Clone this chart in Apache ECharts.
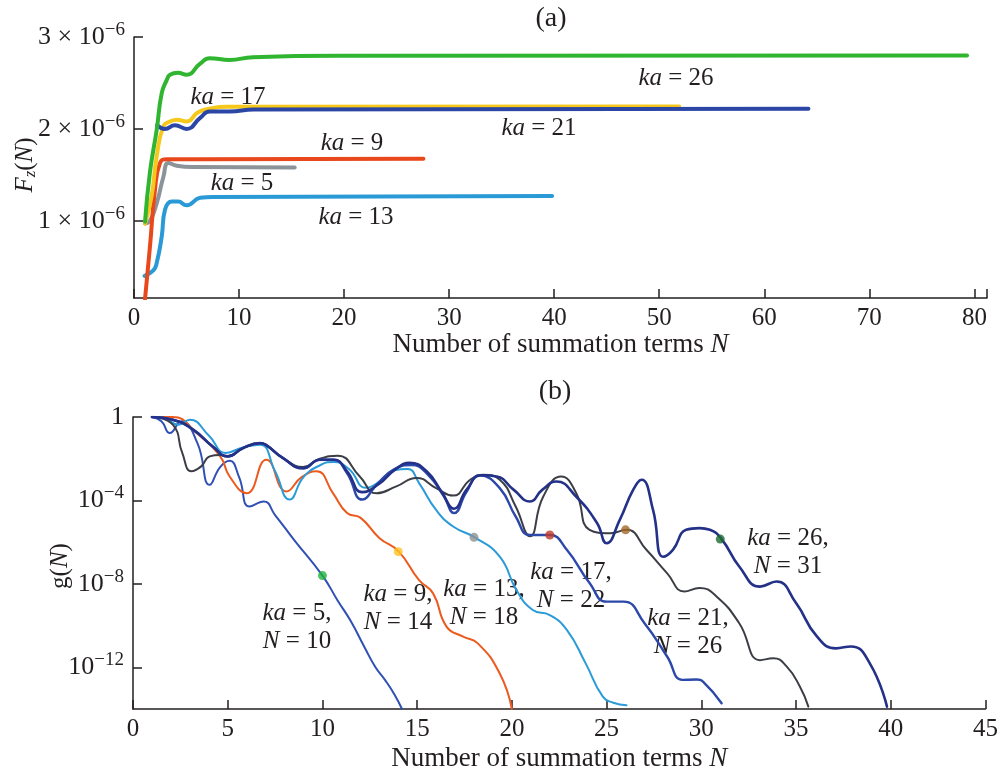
<!DOCTYPE html>
<html>
<head>
<meta charset="utf-8">
<title>Convergence of F_z(N) and g(N)</title>
<script src="https://cdn.jsdelivr.net/npm/echarts@6/dist/echarts.min.js"></script>
<style>
  html, body { margin: 0; padding: 0; background: #fff; }
  #chart { width: 1001px; height: 774px; }
</style>
</head>
<body>
<div id="chart"></div>
<script>
/* Two stacked panels: (a) axial force vs number of terms, (b) log-scale residual g(N). */

// ── (a) F_z(N) curves, [N, value] ──
var fzKa5 = [[1.05, 0.97e-6], [1.52, 1.0e-6], [2.16, 1.19e-6], [2.8, 1.48e-6], [3.27, 1.63e-6], [4.07, 1.6e-6], [5.6, 1.585e-6], [15.3, 1.58e-6]];
var fzKa9 = [[1.05, 0.15e-6], [1.52, 0.72e-6], [2.0, 1.34e-6], [2.48, 1.63e-6], [3.11, 1.67e-6], [6, 1.67e-6], [27.55, 1.675e-6]];
var fzKa13 = [[1.0, 0.40e-6], [1.84, 0.46e-6], [2.16, 0.54e-6], [2.64, 0.83e-6], [2.95, 1.12e-6], [3.6, 1.21e-6], [4.2, 1.21e-6], [5.0, 1.17e-6], [6.3, 1.25e-6], [7.55, 1.26e-6], [39.8, 1.27e-6]];
var fzKa17 = [[1.05, 0.97e-6], [1.68, 1.27e-6], [2.16, 1.70e-6], [2.8, 2.03e-6], [3.43, 2.08e-6], [4.07, 2.10e-6], [5.0, 2.08e-6], [6.1, 2.18e-6], [7.2, 2.22e-6], [8.8, 2.24e-6], [51.9, 2.245e-6]];
var fzKa21 = [[2.2, 2.04e-6], [2.95, 2.0e-6], [3.9, 2.04e-6], [5.0, 2.0e-6], [6.3, 2.12e-6], [7.2, 2.19e-6], [9.1, 2.19e-6], [11.4, 2.21e-6], [64.2, 2.22e-6]];
var fzKa26 = [[1.05, 0.99e-6], [1.52, 1.53e-6], [2.16, 1.99e-6], [2.64, 2.39e-6], [3.11, 2.53e-6], [3.43, 2.59e-6], [4.2, 2.61e-6], [5.0, 2.59e-6], [6.3, 2.71e-6], [7.2, 2.77e-6], [9.1, 2.75e-6], [11.3, 2.78e-6], [20, 2.795e-6], [79.3, 2.80e-6]];
var fzTicks = [1e-6, 2e-6, 3e-6];

// ── (b) g(N) curves ──
var gKa5 = [[1, 1], [1.5, 6.3e-1], [1.94, 1.7e-1], [2.55, 6.2e-1], [3.4, 5.6e-2], [4.05, 5.6e-4], [4.6, 4.0e-3], [5.1, 7.9e-3], [5.6, 1.3e-3], [6.15, 5.1e-5], [6.9, 8.9e-5], [7.5, 2.0e-5], [8.5, 1.3e-6], [10, 2.5e-8], [10.8, 1.6e-9], [11.5, 1.6e-10], [12.2, 1e-11], [12.8, 1e-12], [13.3, 2.5e-13], [13.8, 5e-14], [14.2, 1e-14]];
var gKa9 = [[1, 1], [2.1, 1.0], [3.35, 1.7e-1], [4.6, 1.3e-2], [5.1, 1.4e-3], [6.0, 2.2e-4], [7.04, 8.9e-3], [8.1, 2.7e-4], [8.9, 1.3e-3], [9.68, 2.5e-3], [10.56, 2.2e-4], [11.3, 2.5e-5], [12.0, 1.5e-5], [13.0, 1.6e-6], [14.03, 3.5e-7], [15.1, 1.5e-8], [15.84, 3.5e-9], [16.55, 8.9e-11], [17.4, 3e-11], [18.2, 1.4e-11], [19.36, 5e-13], [20.0, 1e-14]];
var gKa13 = [[1, 1], [1.6, 8.9e-1], [2.4, 4.3e-1], [3.0, 7.4e-1], [4.0, 1.3e-1], [4.9, 1.9e-2], [5.8, 3.5e-2], [6.7, 4.7e-2], [7.5, 2.5e-3], [8.27, 1.1e-4], [9.0, 1.3e-3], [9.9, 5e-3], [10.6, 7e-3], [11.4, 3.2e-3], [12.3, 4e-4], [13.0, 7.9e-4], [13.8, 2.8e-3], [14.5, 3.2e-3], [15.1, 6.8e-4], [16.0, 3.5e-5], [16.9, 5.6e-6], [18.04, 1.7e-6], [19.36, 2e-7], [20.24, 5.1e-9], [21.1, 5.6e-10], [22.0, 3.2e-10], [22.9, 6.2e-11], [23.9, 1.5e-12], [24.8, 3.9e-14], [25.35, 2e-14], [26.05, 1.5e-14]];
var gKa17 = [[1, 1], [2.1, 7.4e-1], [3.17, 2.5e-1], [4.2, 3.9e-2], [5.0, 1.3e-2], [5.8, 3.2e-2], [6.7, 5.6e-2], [7.0, 4.7e-2], [7.9, 1.1e-2], [8.98, 3.5e-3], [9.86, 8.9e-3], [10.6, 8.9e-3], [11.3, 2e-3], [12.1, 1.1e-4], [12.9, 6.3e-4], [13.8, 3.2e-3], [14.7, 5e-3], [15.6, 1.6e-3], [16.4, 1.6e-4], [16.95, 2.5e-5], [17.6, 2.5e-4], [18.3, 1.6e-3], [19.36, 3.9e-4], [20.2, 1.7e-5], [20.95, 2.2e-6], [22.0, 2.2e-6], [22.9, 4.3e-7], [24.1, 1.1e-8], [25.0, 1.4e-9], [25.9, 1.4e-9], [27.0, 1.3e-10], [28.2, 3.2e-12], [29.0, 2.5e-13], [29.75, 2.6e-13], [30.1, 2e-13], [31.07, 1.9e-14]];
var gKa21 = [[1, 1], [2.1, 4.3e-1], [2.6, 1.9e-2], [3.08, 2.5e-3], [3.6, 4.3e-3], [4.05, 1.3e-2], [4.6, 1.5e-2], [5.0, 1.3e-2], [5.8, 3.2e-2], [6.7, 5.6e-2], [7.0, 4.7e-2], [7.9, 1.1e-2], [8.98, 4e-3], [9.86, 1e-2], [10.8, 1.4e-2], [11.97, 1.4e-3], [12.85, 2.2e-4], [13.9, 4.7e-4], [14.96, 1.2e-3], [16.0, 3.9e-4], [16.9, 1.7e-4], [17.8, 9.8e-4], [18.5, 1.7e-3], [19.36, 9.8e-4], [20.2, 5.1e-5], [20.95, 1.9e-6], [21.65, 1.5e-4], [22.6, 1.4e-3], [23.4, 2.2e-4], [24.1, 3.9e-6], [25.2, 2.7e-6], [26.05, 3.9e-6], [27.1, 4.3e-7], [28.2, 3.2e-8], [29.1, 4.3e-9], [29.9, 6.3e-9], [30.8, 2.5e-9], [32.0, 1.3e-10], [33.1, 2.2e-12], [33.8, 2.7e-12], [34.5, 1.1e-12], [35.2, 1.2e-13], [35.65, 1.3e-14]];
var gKa26 = [[1, 1], [2.1, 7.4e-1], [3.17, 2.5e-1], [4.2, 3.9e-2], [5.0, 1.3e-2], [5.8, 3.2e-2], [6.7, 5.6e-2], [7.0, 4.7e-2], [7.9, 1.1e-2], [8.98, 3.5e-3], [9.86, 8.9e-3], [10.6, 8.9e-3], [11.3, 2.5e-3], [12.1, 2.5e-4], [13.0, 6.3e-4], [13.8, 2.8e-3], [14.6, 6.3e-3], [15.5, 2.5e-3], [16.3, 2.5e-4], [16.95, 4e-5], [17.6, 3.2e-4], [18.4, 1.6e-3], [19.2, 1.4e-3], [20.1, 3.2e-4], [20.95, 8.9e-5], [21.6, 3.2e-4], [22.35, 8.1e-4], [23.4, 1.5e-4], [24.5, 8.1e-6], [25.0, 8.9e-7], [25.7, 1.2e-5], [26.4, 3.2e-4], [26.85, 9.8e-4], [27.45, 3.5e-5], [27.98, 2e-7], [28.5, 4.3e-7], [29.2, 3.9e-6], [29.9, 4.7e-6], [30.45, 3.9e-6], [31.07, 1.4e-6], [32.0, 6.8e-8], [33.1, 7.4e-9], [33.97, 1.3e-8], [35.0, 1.2e-9], [36.1, 3e-11], [37.1, 8.1e-12], [37.9, 1e-11], [38.9, 1.5e-12], [39.8, 1.3e-14]];
var gTicks = [1e-12, 1e-8, 1e-4, 1];

// converged N for each ka (dots on panel b)
var markN = [10, 14, 18, 22, 26, 31];
var markG = [2.5e-8, 3.5e-7, 1.7e-6, 2.2e-6, 3.9e-6, 1.4e-6];

(function () {
  'use strict';

  var SERIF = '"Liberation Serif", "DejaVu Serif", serif';
  var INK = '#231f20';
  var FS = 25;

  function axisLine() { return { show: true, onZero: false, lineStyle: { color: INK, width: 1.5 } }; }
  function axisTick(custom) {
    var t = { show: true, inside: true, length: 9, lineStyle: { color: INK, width: 1.5 } };
    if (custom) { t.customValues = custom; }
    return t;
  }

  var baseRich = {
    b: { fontFamily: SERIF, fontSize: 26, color: INK, lineHeight: 30 },
    s: { fontFamily: SERIF, fontSize: 19, color: INK, padding: [0, 0, 14, 0] },
    i: { fontFamily: SERIF, fontSize: FS, color: INK, fontStyle: 'italic' },
    r: { fontFamily: SERIF, fontSize: FS, color: INK },
    z: { fontFamily: SERIF, fontSize: 17, color: INK, fontStyle: 'italic', padding: [12, 0, 0, 0] }
  };
  var nameRich = {
    i: { fontFamily: SERIF, fontSize: 27, color: INK, fontStyle: 'italic' },
    r: { fontFamily: SERIF, fontSize: 27, color: INK }
  };

  function line(data, color, width, xi) {
    return {
      type: 'line',
      xAxisIndex: xi,
      yAxisIndex: xi,
      data: data,
      smooth: 0.5,
      showSymbol: false,
      silent: true,
      lineStyle: { color: color, width: width, cap: 'round', join: 'round' }
    };
  }

  function textEl(x, y, text, rotation, size) {
    return {
      type: 'text',
      x: x,
      y: y,
      rotation: rotation || 0,
      style: {
        text: text,
        align: 'center',
        verticalAlign: 'middle',
        fontFamily: SERIF,
        fontSize: size || FS,
        fill: INK,
        lineHeight: 28,
        rich: baseRich
      }
    };
  }

  var chart = echarts.init(document.getElementById('chart'));
  chart.setOption({
    animation: false,
    backgroundColor: '#fff',
    grid: [
      { left: 134, right: 14, top: 37, height: 261 },
      { left: 133, right: 15, top: 417, height: 292 }
    ],
    xAxis: [
      {
        gridIndex: 0, type: 'value', min: 0, max: 81.2, interval: 10,
        axisLine: axisLine(), axisTick: axisTick(), splitLine: { show: false },
        axisLabel: {
          margin: 8, color: INK, fontFamily: SERIF, fontSize: FS,
          formatter: function (v) { return v % 10 === 0 ? String(v) : ''; }
        },
        name: '{r|Number of summation terms }{i|N}',
        nameLocation: 'middle', nameGap: 30,
        nameTextStyle: { rich: nameRich }
      },
      {
        gridIndex: 1, type: 'value', min: 0, max: 45, interval: 5,
        axisLine: axisLine(), axisTick: axisTick(), splitLine: { show: false },
        axisLabel: { margin: 8, color: INK, fontFamily: SERIF, fontSize: FS },
        name: '{r|Number of summation terms }{i|N}',
        nameLocation: 'middle', nameGap: 36,
        nameTextStyle: { rich: nameRich }
      }
    ],
    yAxis: [
      {
        gridIndex: 0, type: 'value', min: 0.16e-6, max: 3e-6,
        axisLine: axisLine(), axisTick: axisTick(fzTicks), splitLine: { show: false },
        axisLabel: {
          customValues: fzTicks, margin: 9, rich: baseRich,
          formatter: function (v) { return '{b|' + Math.round(v * 1e6) + ' × 10}{s|−6}'; }
        }
      },
      {
        gridIndex: 1, type: 'log', logBase: 10, min: 1e-14, max: 1,
        axisLine: axisLine(), axisTick: axisTick(gTicks), splitLine: { show: false },
        axisLabel: {
          customValues: gTicks, margin: 9, rich: baseRich,
          formatter: function (v) {
            var e = Math.round(Math.log(v) / Math.LN10);
            return e === 0 ? '{b|1}' : '{b|10}{s|−' + (-e) + '}';
          }
        }
      }
    ],
    series: [
      line(fzKa13, '#2a9ad6', 4, 0),
      line(fzKa5, '#8c9399', 4, 0),
      line(fzKa9, '#e8481c', 4, 0),
      line(fzKa17, '#f6c81c', 4, 0),
      line(fzKa21, '#2c46a6', 4, 0),
      line(fzKa26, '#2fb52f', 4, 0),

      line(gKa5, '#3050b3', 2, 1),
      line(gKa9, '#ec5a1e', 2, 1),
      line(gKa13, '#2a9bd8', 2, 1),
      line(gKa21, '#3b3e44', 2, 1),
      line(gKa17, '#2c48a8', 2.4, 1),
      line(gKa26, '#243188', 2.6, 1),
      {
        type: 'scatter',
        xAxisIndex: 1,
        yAxisIndex: 1,
        symbolSize: 9,
        silent: true,
        z: 5,
        data: markN.map(function (n, i) {
          var colors = ['#22b43c', '#ffc222', '#8d9296', '#c0392b', '#a5682a', '#1c6b30'];
          return { value: [n, markG[i]], itemStyle: { color: colors[i] } };
        })
      }
    ],
    graphic: [
      textEl(551, 19, '(a)', 0, 28),
      textEl(555, 392, '(b)', 0, 28),
      textEl(25, 165, '{i|F}{z|z}{r|(}{i|N}{r|)}', Math.PI / 2),
      textEl(60, 566, '{r|g(}{i|N}{r|)}', Math.PI / 2),

      textEl(228, 97, '{i|ka}{r| = 17}'),
      textEl(676, 78, '{i|ka}{r| = 26}'),
      textEl(539, 128, '{i|ka}{r| = 21}'),
      textEl(352, 143, '{i|ka}{r| = 9}'),
      textEl(242, 183, '{i|ka}{r| = 5}'),
      textEl(356, 217, '{i|ka}{r| = 13}'),

      textEl(297, 627, '{i|ka}{r| = 5,}\n{i|N}{r| = 10}'),
      textEl(398, 608, '{i|ka}{r| = 9,}\n{i|N}{r| = 14}'),
      textEl(484, 603, '{i|ka}{r| = 13,}\n{i|N}{r| = 18}'),
      textEl(571, 586, '{i|ka}{r| = 17,}\n{i|N}{r| = 22}'),
      textEl(688, 632, '{i|ka}{r| = 21,}\n{i|N}{r| = 26}'),
      textEl(788, 552, '{i|ka}{r| = 26,}\n{i|N}{r| = 31}')
    ]
  });

  window.addEventListener('resize', function () { chart.resize(); });
})();
</script>
</body>
</html>
